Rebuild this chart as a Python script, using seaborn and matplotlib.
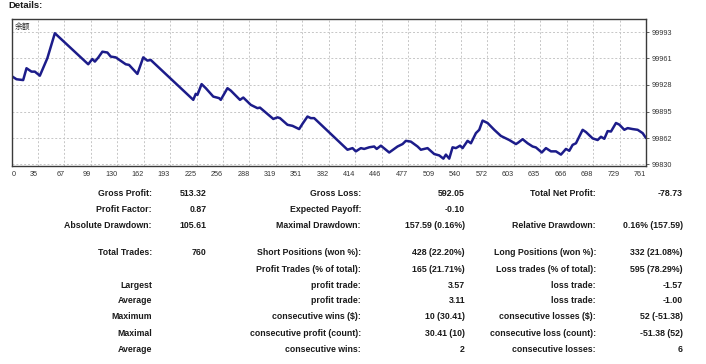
import numpy as np
import pandas as pd
import matplotlib
matplotlib.use("Agg")
import matplotlib.pyplot as plt
import seaborn as sns

# ---- balance curve (trade number, balance) ----
trade_index = [0, 6, 14, 18, 24, 28, 34, 43, 52, 92, 97, 100, 104, 109, 115, 119, 125,
               137, 141, 151, 158, 163, 167, 218, 221, 223, 228, 233, 242, 249, 251,
               259, 263, 274, 278, 287, 295, 298, 314, 319, 322, 331, 337, 345, 349,
               355, 359, 363, 403, 409, 413, 419, 423, 429, 435, 438, 443, 449, 453,
               463, 469, 473, 479, 487, 491, 499, 507, 513, 518, 521, 525, 529, 533,
               538, 541, 547, 551, 557, 561, 565, 571, 579, 587, 591, 597, 605, 608,
               613, 619, 625, 629, 636, 641, 647, 653, 659, 665, 669, 673, 677, 685,
               689, 697, 703, 707, 711, 715, 719, 725, 729, 735, 739, 745, 751, 757, 761]
balance = [99939, 99935, 99934, 99948.6, 99944.4, 99944.4, 99939.4, 99961, 99991.8,
           99953.5, 99960, 99956.8, 99961.7, 99969, 99968, 99963, 99962, 99953.5,
           99952.7, 99941.6, 99962, 99958, 99958.8, 99909.6, 99917, 99915.7, 99929,
           99924, 99913.6, 99911.7, 99909.6, 99924, 99921, 99909.6, 99912.4, 99903.4,
           99899.3, 99900, 99886, 99888, 99887, 99878.8, 99877.5, 99873.5, 99880,
           99889, 99887, 99887, 99848, 99850, 99846, 99850, 99849, 99851, 99852,
           99849, 99853, 99848, 99844.6, 99852, 99855, 99859, 99858, 99852, 99848,
           99850, 99842.7, 99841, 99837, 99842, 99837, 99851, 99850, 99853, 99850,
           99859, 99856, 99868.5, 99872.6, 99884, 99881, 99872.6, 99865, 99863, 99860,
           99855, 99857, 99861, 99856, 99852, 99850.8, 99844.6, 99850, 99846, 99846,
           99842, 99849, 99846.7, 99854, 99856, 99872.6, 99869.8, 99862, 99860, 99864,
           99861.5, 99871, 99870.5, 99881, 99879, 99872.6, 99874.7, 99873.5, 99872.6,
           99868.5, 99862.4]

x_tick_labels = ["0", "35", "67", "99", "130", "162", "193", "225", "256", "288", "319",
                 "351", "382", "414", "446", "477", "509", "540", "572", "603", "635",
                 "666", "698", "729", "761"]
y_ticks = [99830, 99862, 99895, 99928, 99961, 99993]
series_label = "余额"

# ---- statistics table ----
col1_labels = ["Gross Profit:", "Profit Factor:", "Absolute Drawdown:", "Total Trades:", "",
               "Largest", "Average", "Maximum", "Maximal", "Average"]
col1_values = ["513.32", "0.87", "105.61", "760", "", "", "", "", "", ""]
col2_labels = ["Gross Loss:", "Expected Payoff:", "Maximal Drawdown:", "Short Positions (won %):",
               "Profit Trades (% of total):", "profit trade:", "profit trade:",
               "consecutive wins ($):", "consecutive profit (count):", "consecutive wins:"]
col2_values = ["592.05", "-0.10", "157.59 (0.16%)", "428 (22.20%)", "165 (21.71%)", "3.57",
               "3.11", "10 (30.41)", "30.41 (10)", "2"]
col3_labels = ["Total Net Profit:", "", "Relative Drawdown:", "Long Positions (won %):",
               "Loss trades (% of total):", "loss trade:", "loss trade:",
               "consecutive losses ($):", "consecutive loss (count):", "consecutive losses:"]
col3_values = ["-78.73", "", "0.16% (157.59)", "332 (21.08%)", "595 (78.29%)", "-1.57",
               "-1.00", "52 (-51.38)", "-51.38 (52)", "6"]

sns.set_style("white")
plt.rcParams['font.family'] = ['Liberation Sans', 'Noto Sans CJK SC', 'DejaVu Sans']

W, H = 706, 364
fig = plt.figure(figsize=(W / 100, H / 100), dpi=100)
fig.patch.set_facecolor("white")

L, R, T, B = 11.5, 646, 19.3, 165.7
ax = fig.add_axes([L / W, 1 - B / H, (R - L) / W, (B - T) / H])

df = pd.DataFrame({"trade": trade_index, "balance": balance})
sns.lineplot(data=df, x="trade", y="balance", ax=ax, color="#1c1c8a", linewidth=1.8,
             estimator=None, sort=False)

ax.set_xlim(0, 761)
ax.set_ylim(99828.3, 100009)
ax.set_xlabel("")
ax.set_ylabel("")

xt = np.linspace(0, 761, len(x_tick_labels))
ax.set_xticks(xt)
ax.set_xticklabels(x_tick_labels)
for i, lab in enumerate(ax.get_xticklabels()):
    lab.set_ha("left" if i == 0 else "right")
ax.tick_params(axis="x", length=0, pad=3.5, labelsize=5.2, labelcolor="#333333")

ax.yaxis.tick_right()
ax.set_yticks(y_ticks)
ax.set_yticklabels([str(v) for v in y_ticks])
ax.tick_params(axis="y", right=True, length=2.5, width=0.6, pad=1.5, labelsize=5.2,
               labelcolor="#333333", color="#444444")

ax.grid(True, color="#c6c6c6", linestyle=(0, (2, 2)), linewidth=0.7)
ax.set_axisbelow(True)
for s in ax.spines.values():
    s.set_color("#3a3a3a")
    s.set_linewidth(1.0)

fig.text(15 / W, 1 - 27 / H, series_label, family=['Noto Sans CJK SC', 'DejaVu Sans'],
         fontsize=5.6, va="center", ha="left", color="#222222")

fig.text(8 / W, 1 - 6 / H, "Details:", fontsize=6.8, fontweight="bold", va="center",
         ha="left", color="#1a1a1a")

row_y = [194, 209.5, 225, 252.7, 269, 285, 300.7, 316.7, 333.3, 349]
col_x = [152, 206.7, 361, 465, 596, 682.7]
cols = [col1_labels, col1_values, col2_labels, col2_values, col3_labels, col3_values]
for cx, col in zip(col_x, cols):
    for ry, txt in zip(row_y, col):
        if txt:
            fig.text(cx / W, 1 - ry / H, txt, ha="right", va="center", fontsize=6.3,
                     fontweight="bold", color="#1a1a1a")

fig.savefig("out.png", dpi=100, facecolor="white")
